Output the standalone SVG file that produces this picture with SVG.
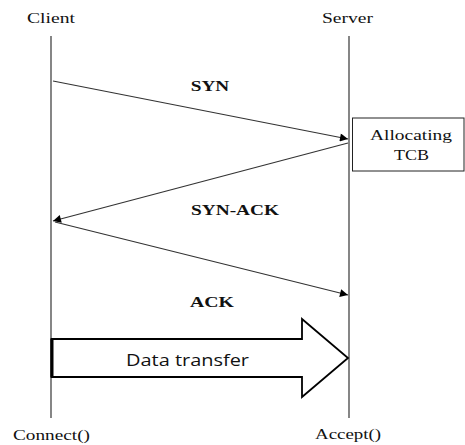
<svg xmlns="http://www.w3.org/2000/svg" width="465" height="445" viewBox="0 0 465 445">
<style>
.lbl{font-family:"Liberation Serif","Times New Roman",serif;font-size:15px;fill:#111;text-anchor:middle}
.msg{font-family:"Liberation Serif","Times New Roman",serif;font-size:15px;font-weight:bold;fill:#111;text-anchor:middle}
.life{stroke:#444;stroke-width:1.3;fill:none}
.conn{stroke:#333;stroke-width:1.2;fill:none;marker-end:url(#ah)}
</style>
<defs>
<marker id="ah" viewBox="0 0 10 10" refX="10" refY="5" markerWidth="10" markerHeight="8" markerUnits="userSpaceOnUse" orient="auto">
<path d="M0,0 L10,5 L0,10 z" fill="#000"/>
</marker>
</defs>
<rect width="465" height="445" fill="#fff"/>
<g id="client">
<text class="lbl" x="51" y="23" textLength="48" lengthAdjust="spacingAndGlyphs">Client</text>
<line class="life" x1="51" y1="36" x2="51" y2="418"/>
<text class="lbl" x="51.5" y="440" textLength="77" lengthAdjust="spacingAndGlyphs">Connect()</text>
</g>
<g id="server">
<text class="lbl" x="347.5" y="23" textLength="51" lengthAdjust="spacingAndGlyphs">Server</text>
<line class="life" x1="349" y1="36" x2="349" y2="418"/>
<text class="lbl" x="348" y="439" textLength="66" lengthAdjust="spacingAndGlyphs">Accept()</text>
</g>
<g id="tcb">
<rect x="352.5" y="118" width="111.5" height="53" fill="#fff" stroke="#222" stroke-width="1"/>
<text class="lbl" x="411" y="140" textLength="82" lengthAdjust="spacingAndGlyphs">Allocating</text>
<text class="lbl" x="411.5" y="160" textLength="35" lengthAdjust="spacingAndGlyphs">TCB</text>
</g>
<g id="connectors">
<line class="conn" x1="53" y1="81" x2="348" y2="139"/>
<text class="msg" x="210" y="91" textLength="38.5" lengthAdjust="spacingAndGlyphs">SYN</text>
<line class="conn" x1="348" y1="143" x2="53" y2="221"/>
<text class="msg" x="235" y="215" textLength="88" lengthAdjust="spacingAndGlyphs">SYN-ACK</text>
<line class="conn" x1="55" y1="222" x2="348" y2="295"/>
<text class="msg" x="212" y="307" textLength="44" lengthAdjust="spacingAndGlyphs">ACK</text>
</g>
<g id="data-transfer">
<path d="M51.5,339 L302,339 L302,319 L348,358 L302,397 L302,377 L51.5,377 Z" fill="#fff" stroke="#000" stroke-width="1.8" stroke-linejoin="miter"/>
<line x1="52" y1="339" x2="52" y2="377" stroke="#000" stroke-width="3"/>
<text x="187.5" y="366" font-family="'Open Sans','Noto Sans',sans-serif" font-size="17" fill="#111" text-anchor="middle" textLength="123" lengthAdjust="spacingAndGlyphs">Data transfer</text>
</g>
</svg>
